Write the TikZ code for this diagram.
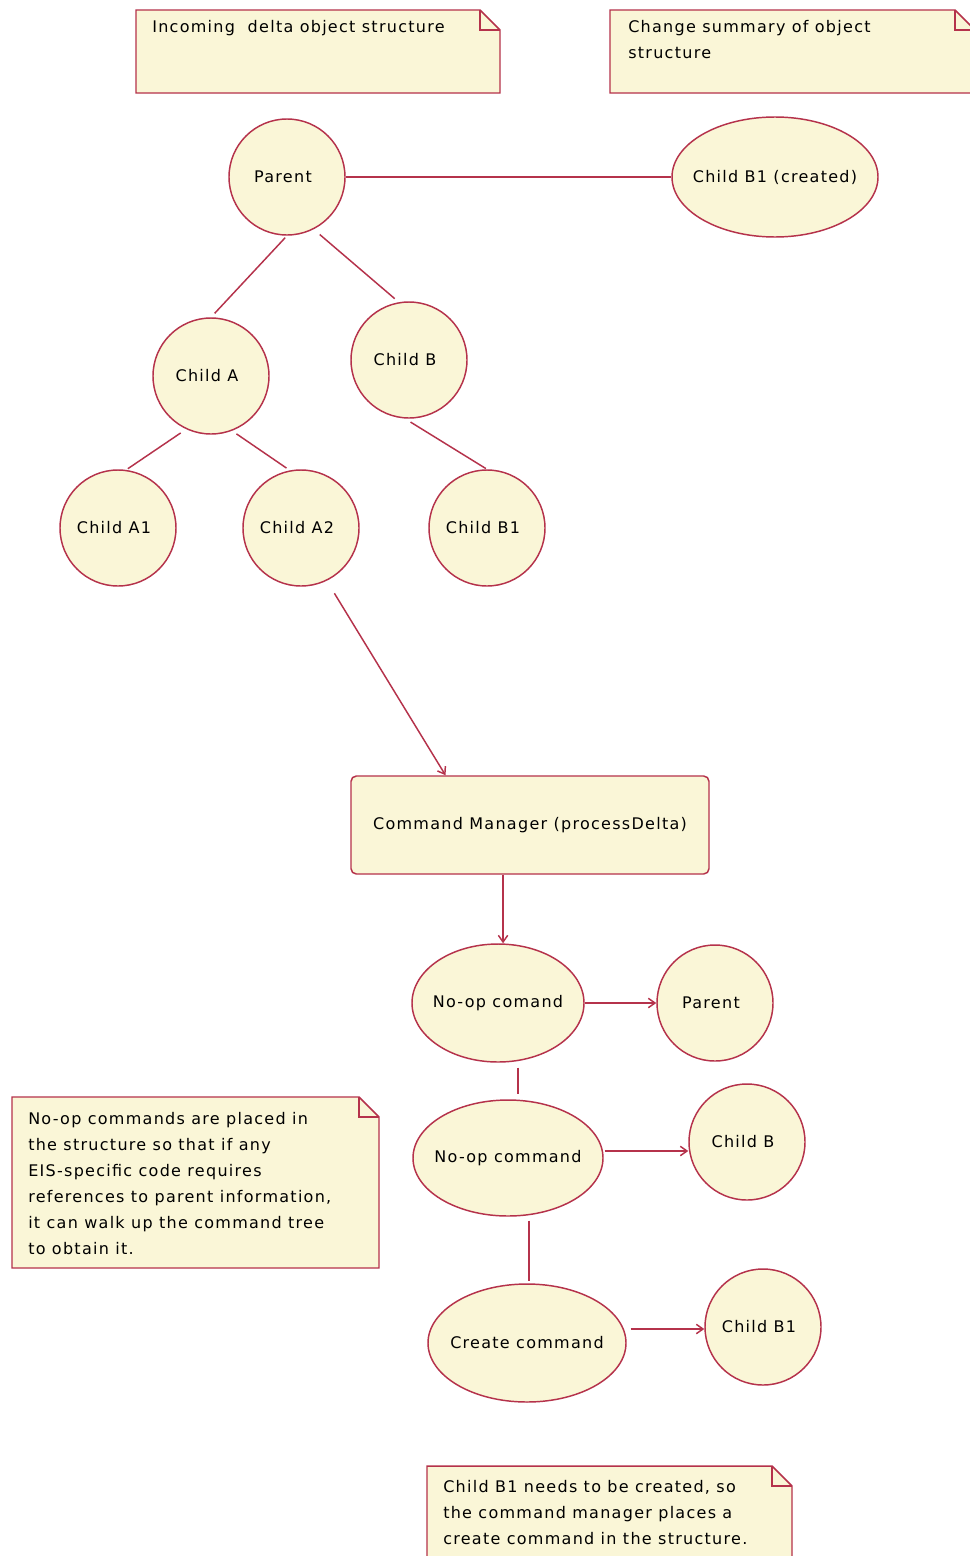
\documentclass[tikz,border=0pt]{standalone}
\usepackage{fontspec}
\setmainfont{DejaVu Sans}[LetterSpace=8]
\usetikzlibrary{shapes.geometric,arrows.meta,calc}
\definecolor{edge}{RGB}{181,50,75}
\definecolor{cream}{RGB}{250,246,215}
\newcommand{\zw}[1]{\makebox[0pt]{#1}}
\begin{document}
\begin{tikzpicture}[x=0.75pt,y=-0.75pt,
  every node/.style={font=\fontsize{12}{19.5}\selectfont},
  circ/.style={circle,draw=edge,fill=cream,line width=1.1pt,minimum size=87pt,inner sep=0pt,
    execute at begin node={\hspace*{-6pt}}},
  ell/.style={ellipse,draw=edge,fill=cream,line width=1.1pt,inner sep=0pt},
  cmbox/.style={rectangle,draw=edge,fill=cream,line width=1.1pt,rounded corners=4pt,inner sep=0pt},
  conn/.style={draw=edge,line width=1.1pt},
  arr/.style={conn,-{Straight Barb[length=5pt,width=7pt]}},
  notebox/.style={draw=edge,fill=cream,line width=1.1pt,line join=miter},
  notefold/.style={draw=edge,line width=1.1pt},
  notetext/.style={anchor=north west,inner sep=0pt,align=left}]
\useasboundingbox (0,0) rectangle (970,1556);
\clip (0,0) rectangle (970,1556);
\fill[white] (0,0) rectangle (970,1556);

% notes
\draw[notebox] (136,10) -- (480,10) -- (500,30) -- (500,93) -- (136,93) -- cycle;
\draw[notefold] (480,10) -- (480,30) -- (500,30);
\draw[notebox] (610,10) -- (955,10) -- (975,30) -- (975,93) -- (610,93) -- cycle;
\draw[notefold] (955,10) -- (955,30) -- (975,30);
\draw[notebox] (12,1097) -- (359,1097) -- (379,1117) -- (379,1268) -- (12,1268) -- cycle;
\draw[notefold] (359,1097) -- (359,1117) -- (379,1117);
\draw[notebox] (427,1466) -- (772,1466) -- (792,1486) -- (792,1575) -- (427,1575) -- cycle;
\draw[notefold] (772,1466) -- (772,1486) -- (792,1486);

\node[notetext] (n1t) at (152,20) {Incoming~ delta object structure};
\node[notetext] (n2t) at (628,20) {Change summary of object\\structure};
\node[notetext] (n3t) at (28,1112) {No-op commands are placed in\\the structure so that if any\\EIS-specific code requires\\references to parent information,\\it can walk up the command tree\\to obtain it.};
\node[notetext] (n4t) at (443,1480) {Child B1 needs to be created, so\\the command manager places a\\create command in the structure.};

% nodes
\node[circ] (parent) at (287,177) {Parent};
\node[ell,minimum width=154.5pt,minimum height=90pt] (b1c) at (775,177) {\zw{Child B1 (created)}};
\node[circ] (ca) at (211,376) {Child A};
\node[circ] (cb) at (409,360) {Child B};
\node[circ] (a1) at (118,528) {Child A1};
\node[circ] (a2) at (301,528) {Child A2};
\node[circ] (b1) at (487,528) {Child B1};
\node[cmbox,minimum width=268.5pt,minimum height=73.5pt] (cm) at (530,825) {Command Manager (processDelta)};
\node[ell,minimum width=129pt,minimum height=88.5pt] (n1) at (498,1003) {\zw{No-op comand}};
\node[circ] (p2) at (715,1003) {Parent};
\node[ell,minimum width=142.5pt,minimum height=87pt] (n2) at (508,1158) {\zw{No-op command}};
\node[circ] (cb2) at (747,1142) {Child B};
\node[ell,minimum width=148.5pt,minimum height=88.5pt] (cr) at (527,1343) {\zw{Create command}};
\node[circ] (b12) at (763,1327) {Child B1};

% connectors
\draw[conn] (parent.east) -- (b1c.west);
\draw[conn,shorten <=2pt,shorten >=4pt] (parent.south) -- (ca.north);
\draw[conn,shorten <=6pt,shorten >=4pt] (parent.-63) -- (cb.100);
\draw[conn,shorten <=5pt,shorten >=1.5pt] (ca.-115) -- (a1.82);
\draw[conn,shorten <=4pt,shorten >=3pt] (ca.-69) -- (a2.101);
\draw[conn,shorten <=5pt,shorten >=1pt] (cb.-94) -- (b1.north);
\draw[arr,shorten <=11pt] (a2.-64) -- ($(cm.north west)!0.265!(cm.north east)$);
\draw[arr] ($(cm.south west)!0.425!(cm.south east)$) coordinate (t1) -- (t1 |- n1.north);
\draw[arr] (n1.east) -- (p2.west);
\path (n2.east) ++(1,-7) coordinate (s2);
\draw[arr] (s2) -- (s2 -| cb2.west);
\path (cr.east) ++(4,-14) coordinate (s3);
\draw[arr] (s3) -- (s3 -| b12.west);
\draw[conn] ($(n1.south)+(20,5)$) -- ($(n2.north)+(10,-5)$);
\draw[conn] ($(n2.south)+(21,4)$) -- ($(cr.north)+(2,-2)$);
\end{tikzpicture}
\end{document}
